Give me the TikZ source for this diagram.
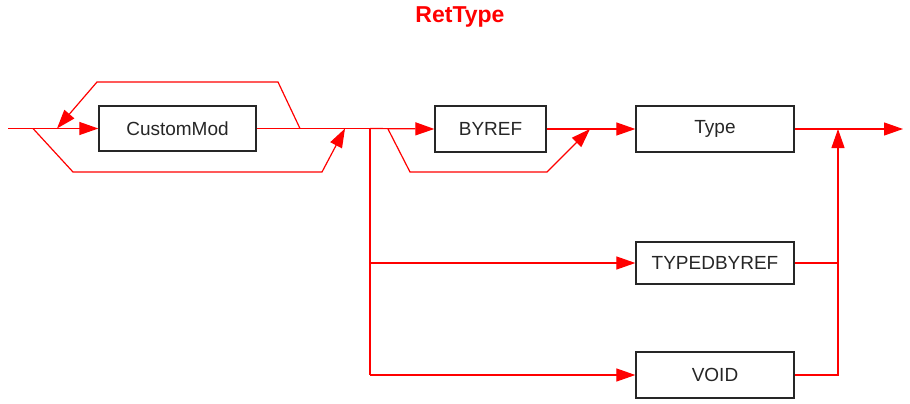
\documentclass[tikz,border=0pt]{standalone}
\usepackage{fontspec}
\setmainfont{Liberation Sans}
\usetikzlibrary{arrows.meta}
\definecolor{rr}{RGB}{255,0,0}
\begin{document}
\begin{tikzpicture}[x=1pt,y=-1pt,
  box/.style={draw=black!85,line width=1.3pt,minimum height=45pt,inner sep=0pt,font=\fontsize{19}{21}\selectfont,text=black!85},
  rail/.style={draw=rr,line width=1.2pt},
  arr/.style={rail,-{Triangle[length=19pt,width=13pt]}}]
\useasboundingbox (0,0) rectangle (910,404);
\node[font=\bfseries\fontsize{23}{26}\selectfont,text=rr] (title) at (460,17) {RetType};
\node[box,minimum width=157pt] (cm) at (177.5,128.5) {CustomMod};
\node[box,minimum width=111pt,minimum height=46pt] (byref) at (490.5,129) {BYREF};
\node[box,minimum width=158pt,minimum height=46pt] (type) at (715,129) {Type};
\node[box,minimum width=158pt,minimum height=42pt] (tdb) at (715,263) {TYPEDBYREF};
\node[box,minimum width=158pt,minimum height=46pt] (void) at (715,375) {VOID};
\coordinate (start) at (8,128.5);
\coordinate (j1) at (33,128.5);
\coordinate (lp) at (57,128.5);
\coordinate (lt) at (300,128.5);
\coordinate (bj) at (345,128.5);
\coordinate (split) at (370,128.5);
\coordinate (j2) at (388,129);
\coordinate (bj2) at (590,129);
\coordinate (oj) at (838,129);
\coordinate (end) at (903,129);
% main line
\draw[arr] (start) -- (cm.west);
\draw[rail] (cm.east) -- (split);
\draw[arr] (split) -- (byref.west);
\draw[arr] (byref.east) -- (type.west);
\draw[arr] (type.east) -- (end);
% loop over CustomMod
\draw[arr] (lt) -- (278,82) -- (97,82) -- (lp);
% bypass under CustomMod
\draw[arr] (j1) -- (73,172) -- (322,172) -- (bj);
% bypass under BYREF
\draw[arr] (j2) -- (410,172) -- (547,172) -- (bj2);
% alternatives
\draw[rail] (split) -- (split |- void.west);
\draw[arr] (split |- tdb.west) -- (tdb.west);
\draw[arr] (split |- void.west) -- (void.west);
\draw[rail] (tdb.east) -- (oj |- tdb.east);
\draw[arr] (void.east) -| (oj);
\end{tikzpicture}
\end{document}
